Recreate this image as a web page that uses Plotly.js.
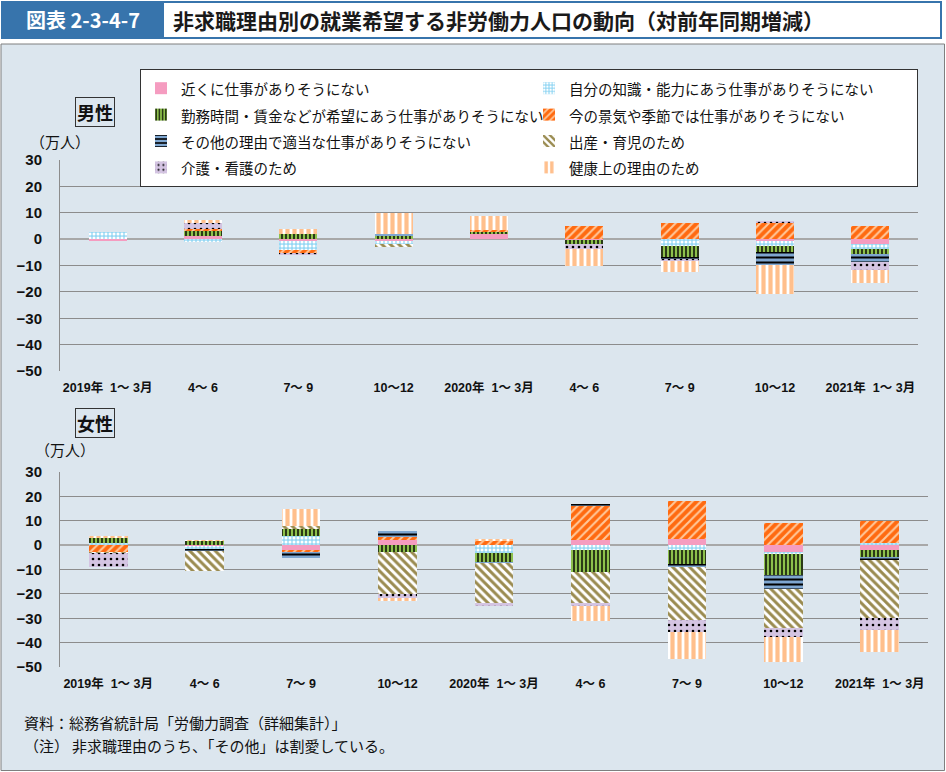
<!DOCTYPE html>
<html><head><meta charset="utf-8">
<script src="https://cdn.plot.ly/plotly-3.0.1.min.js"></script>
<style>html,body{margin:0;padding:0;background:#fff}#chart{width:946px;height:772px}</style>
</head><body><div id="chart"></div>
<script>
// ---- data (万人, 対前年同期増減) ----
const periods = ["2019年  1～ 3月","4～ 6","7～ 9","10～12","2020年  1～ 3月","4～ 6","7～ 9","10～12","2021年  1～ 3月"];
const seriesNames = [
  "近くに仕事がありそうにない",
  "自分の知識・能力にあう仕事がありそうにない",
  "勤務時間・賃金などが希望にあう仕事がありそうにない",
  "今の景気や季節では仕事がありそうにない",
  "その他の理由で適当な仕事がありそうにない",
  "出産・育児のため",
  "介護・看護のため",
  "健康上の理由のため"
];
// 男性
const maleNear     = [-0.7, 1.0, -0.8, -0.6, 2.1, -0.2, 0.0, -0.8, -1.8];
const maleSkill    = [ 2.8, -0.9, -3.2, -1.2, 0.0, 0.0, -2.7, -1.9, -2.1];
const maleHours    = [ 0.0, 2.0, 2.1, 1.0, 0.7, -1.8, -4.0, -2.1, -1.9];
const maleEconomy  = [ 0.0, 0.8, -1.1, 0.2, 0.7, 5.0, 6.0, 6.1, 5.0];
const maleOther    = [ 0.0, 0.0, 0.0, 0.6, 0.0, 0.0, -0.7, -5.0, -3.0];
const maleChild    = [ 0.0, 0.0, 0.0, -1.0, 0.0, 0.0, 0.0, 0.0, 0.0];
const maleCare     = [ 0.0, 2.2, -0.8, 0.0, 0.0, -1.8, -1.0, 0.8, -2.9];
const maleHealth   = [ 0.0, 1.2, 1.9, 8.0, 5.4, -6.3, -4.0, -11.1, -5.0];
// 女性
const femaleNear    = [ 0.0, -0.5, -1.8, 2.0, 0.0, 2.0, 2.7, -3.0, -2.0];
const femaleSkill   = [ 1.0, -1.0, 3.8, 0.0, -3.4, -2.0, -2.0, -0.7, 1.0];
const femaleHours   = [ 1.8, 1.8, 3.0, -3.0, -3.4, -8.9, -5.7, -8.6, -3.0];
const femaleEconomy = [-3.0, 0.0, -1.2, 1.4, 1.8, 13.9, 15.3, 8.9, 8.9];
const femaleOther   = [ 0.0, -1.0, -2.2, 2.5, -0.7, 1.1, -1.1, -5.7, -1.1];
const femaleChild   = [-0.4, -8.2, 1.0, -17.0, -16.4, -13.0, -22.1, -16.1, -23.9];
const femaleCare    = [-5.5, 0.0, 0.0, -1.8, -1.1, -1.1, -4.9, -3.7, -4.8];
const femaleHealth  = [ 1.1, 0.5, 7.0, -1.0, 0.9, -6.0, -10.9, -10.0, -9.1];
const yTicks = [30,20,10,0,-10,-20,-30,-40,-50];

const maleSeries = [maleNear, maleSkill, maleHours, maleEconomy, maleOther, maleChild, maleCare, maleHealth];
const femaleSeries = [femaleNear, femaleSkill, femaleHours, femaleEconomy, femaleOther, femaleChild, femaleCare, femaleHealth];

// ---- styles ----
const styles = [
  {color:"#f59cc0"},
  {color:"#97d8f4", pattern:{shape:".", bgcolor:"#97d8f4", fgcolor:"#ffffff", size:4, solidity:0.45}},
  {color:"#8dc04c", pattern:{shape:"|", bgcolor:"#8dc04c", fgcolor:"#000000", size:4, solidity:0.35}},
  {color:"#ff6a10", pattern:{shape:"/", bgcolor:"#ff6a10", fgcolor:"#ffc89a", size:6, solidity:0.35}},
  {color:"#7ea6d0", pattern:{shape:"-", bgcolor:"#7ea6d0", fgcolor:"#000000", size:5, solidity:0.4}},
  {color:"#9a8b50", pattern:{shape:"\\", bgcolor:"#ffffff", fgcolor:"#9a8b50", size:6, solidity:0.5}},
  {color:"#d4c4e2", pattern:{shape:".", bgcolor:"#d4c4e2", fgcolor:"#000000", size:6, solidity:0.15}},
  {color:"#ffbf8c", pattern:{shape:"|", bgcolor:"#ffffff", fgcolor:"#ffbf8c", size:7, solidity:0.6}}
];

const W = 946, H = 772;
const X = p => p / W;
const Y = p => 1 - p / H;
const idx = periods.map((_, i) => i);

const traces = [];
function addSet(series, xa, ya, show){
  series.forEach((vals, k) => {
    const st = styles[k];
    const marker = {color: st.color, line:{width:0}};
    if (st.pattern) marker.pattern = Object.assign({fillmode:"replace"}, st.pattern);
    traces.push({type:"bar", x: idx, y: vals,
      name: '<span style="font-size:14.5px">' + seriesNames[k] + '</span>',
      xaxis: xa, yaxis: ya, width: 0.4, marker, showlegend: show, legendgroup: "g"+k, hoverinfo:"skip"});
  });
}
addSet(maleSeries, "x", "y", true);
addSet(femaleSeries, "x2", "y2", false);

const baseFont = "Noto Sans CJK JP, sans-serif";
const tickFontX = {family:"Liberation Sans, Noto Sans CJK JP, sans-serif", size:12.5, color:"#111", weight:"bold"};
const tickFontY = {family:"Liberation Sans, Arial, sans-serif", size:15, color:"#111", weight:"bold"};

function xAxis(domain, anchor){
  return {domain, anchor, range:[-0.5, 8.5], tickmode:"array", tickvals: idx, ticktext: periods,
    showgrid:false, zeroline:false, showline:false, ticks:"", tickfont: tickFontX, ticklabelstandoff: 7, fixedrange:true};
}
function yAxis(domain, anchor){
  return {domain, anchor, range:[-50, 30], tickmode:"array", tickvals: yTicks, showgrid:true, gridcolor:"#8c8c8c", gridwidth:1,
    zeroline:true, zerolinecolor:"#a8a8a8", zerolinewidth:1.5, showline:true, linecolor:"#8c8c8c", linewidth:1,
    ticks:"", tickfont: tickFontY, ticklabelstandoff: 14, fixedrange:true};
}

const ann = [];
function txt(text, x, y, opts){
  ann.push(Object.assign({text, x: X(x), y: Y(y), xref:"paper", yref:"paper", showarrow:false,
    xanchor:"left", yanchor:"middle", font:{family: baseFont, size:15, color:"#111"}}, opts||{}));
}
txt("図表 2-3-4-7", 83, 20, {xanchor:"center", font:{family: baseFont, size:20, color:"#ffffff", weight:"bold"}});
txt("非求職理由別の就業希望する非労働力人口の動向（対前年同期増減）", 171, 20, {font:{family: baseFont, size:21, color:"#1a1a1a", weight:"bold"}});
txt("男性", 95, 112, {xanchor:"center", font:{family: baseFont, size:18, color:"#111", weight:"bold"}, bordercolor:"#333", borderwidth:1, borderpad:1});
txt("（万人）", 28, 141, {font:{family: baseFont, size:15, color:"#111"}});
txt("女性", 95, 423, {xanchor:"center", font:{family: baseFont, size:18, color:"#111", weight:"bold"}, bordercolor:"#333", borderwidth:1, borderpad:1});
txt("（万人）", 33, 450, {font:{family: baseFont, size:15, color:"#111"}});
txt("資料：総務省統計局「労働力調査（詳細集計）」", 22, 722);
txt("（注）", 22, 745);
txt("非求職理由のうち、「その他」は割愛している。", 70, 745);

const shapes = [
  {type:"rect", xref:"paper", yref:"paper", x0:X(1), x1:X(944.5), y0:Y(770.5), y1:Y(44), fillcolor:"#dce6ee", line:{color:"#7f7f7f", width:1}, layer:"below"},
  {type:"rect", xref:"paper", yref:"paper", x0:X(2), x1:X(941), y0:Y(38), y1:Y(2), fillcolor:"#ffffff", line:{color:"#3774ac", width:2}, layer:"below"},
  {type:"rect", xref:"paper", yref:"paper", x0:X(2), x1:X(163), y0:Y(38), y1:Y(2), fillcolor:"#3774ac", line:{color:"#3774ac", width:2}, layer:"below"}
];

const layout = {
  width: W, height: H, margin:{l:0, r:0, t:0, b:0, pad:0},
  paper_bgcolor:"#ffffff", plot_bgcolor:"#ffffff",
  barmode:"relative", bargap:0,
  font:{family: baseFont, color:"#111"},
  xaxis: xAxis([X(60), X(918)], "y"),
  yaxis: yAxis([Y(371), Y(160)], "x"),
  xaxis2: xAxis([X(60), X(928)], "y2"),
  yaxis2: yAxis([Y(667), Y(472)], "x2"),
  showlegend: true,
  legend:{orientation:"h", x: X(140), y: Y(69), xanchor:"left", yanchor:"top", bgcolor:"#ffffff",
    bordercolor:"#333", borderwidth:1, entrywidth: 343, entrywidthmode:"pixels", itemwidth:30,
    font:{family: baseFont, size:18, color:"#111"}, traceorder:"normal", itemclick:false, itemdoubleclick:false},
  annotations: ann, shapes
};

Plotly.newPlot("chart", traces, layout, {displayModeBar:false, staticPlot:true});
</script></body></html>
